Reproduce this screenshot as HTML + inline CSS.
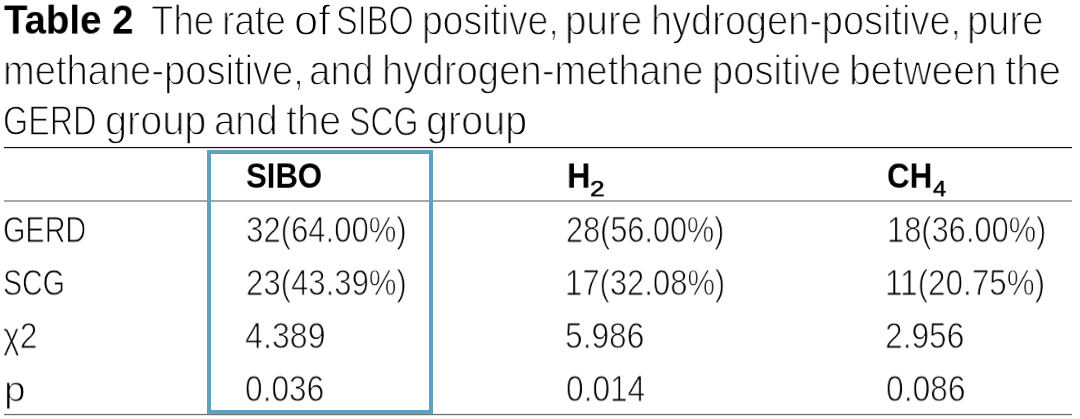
<!DOCTYPE html>
<html><head><meta charset="utf-8"><style>
html,body{margin:0;padding:0;background:#fff;width:1080px;height:419px;overflow:hidden;position:relative}
.t{position:absolute;will-change:transform;font-family:"Liberation Sans",sans-serif;line-height:0;white-space:nowrap;transform-origin:0 0;color:#000}
.b{font-weight:700}
.rule{position:absolute;left:4px;width:1068px}
</style></head><body>
<div class="rule" style="top:146px;height:1px;background:#f2f2f2"></div>
<div class="rule" style="top:147px;height:1px;background:#141414"></div>
<div class="rule" style="top:148px;height:1px;background:#d4d4d4"></div>
<div class="rule" style="top:200px;height:2px;background:#a8a8a8"></div>
<div class="rule" style="top:413px;height:1px;background:#eeeeee"></div>
<div class="rule" style="top:414px;height:1px;background:#717171"></div>
<div class="rule" style="top:415px;height:1px;background:#e4e4e4"></div>
<div class="t b" style="left:3.90px;top:20.36px;font-size:44px;transform:scale(0.8722,0.9040)">Table 2</div>
<div class="t r" style="left:151.07px;top:21.14px;font-size:42px;-webkit-text-stroke:1.30px #fff;transform:scale(0.8739,1.0039)">The</div>
<div class="t r" style="left:222.13px;top:20.63px;font-size:42px;-webkit-text-stroke:1.30px #fff;transform:scale(0.8828,0.9974)">rate</div>
<div class="t r" style="left:293.91px;top:21.06px;font-size:42px;-webkit-text-stroke:1.30px #fff;transform:scale(1.0370,1.0009)">of</div>
<div class="t r" style="left:335.79px;top:21.12px;font-size:42px;-webkit-text-stroke:1.30px #fff;transform:scale(0.7739,1.0058)">SIBO</div>
<div class="t r" style="left:421.83px;top:20.70px;font-size:42px;-webkit-text-stroke:1.30px #fff;transform:scale(0.8877,1.0027)">positive,</div>
<div class="t r" style="left:565.42px;top:21.14px;font-size:42px;-webkit-text-stroke:1.30px #fff;transform:scale(0.9177,1.0039)">pure</div>
<div class="t r" style="left:650.88px;top:20.82px;font-size:42px;-webkit-text-stroke:1.30px #fff;transform:scale(0.9034,0.9955)">hydrogen-positive,</div>
<div class="t r" style="left:967.05px;top:21.14px;font-size:42px;-webkit-text-stroke:1.30px #fff;transform:scale(0.9090,1.0039)">pure</div>
<div class="t r" style="left:3.25px;top:71.15px;font-size:42px;-webkit-text-stroke:1.30px #fff;transform:scale(0.9074,1.0033)">methane-positive,</div>
<div class="t r" style="left:309.08px;top:70.91px;font-size:42px;-webkit-text-stroke:1.30px #fff;transform:scale(0.9184,0.9987)">and</div>
<div class="t r" style="left:381.60px;top:71.15px;font-size:42px;-webkit-text-stroke:1.30px #fff;transform:scale(0.9118,1.0033)">hydrogen-methane</div>
<div class="t r" style="left:711.85px;top:71.15px;font-size:42px;-webkit-text-stroke:1.30px #fff;transform:scale(0.9082,1.0033)">positive</div>
<div class="t r" style="left:849.01px;top:70.68px;font-size:42px;-webkit-text-stroke:1.30px #fff;transform:scale(0.9305,1.0009)">between</div>
<div class="t r" style="left:1004.87px;top:70.57px;font-size:42px;-webkit-text-stroke:1.30px #fff;transform:scale(0.9597,1.0017)">the</div>
<div class="t r" style="left:2.89px;top:121.31px;font-size:42px;-webkit-text-stroke:1.30px #fff;transform:scale(0.7699,0.9975)">GERD</div>
<div class="t r" style="left:104.87px;top:121.28px;font-size:42px;-webkit-text-stroke:1.30px #fff;transform:scale(0.9441,0.9955)">group</div>
<div class="t r" style="left:213.91px;top:121.22px;font-size:42px;-webkit-text-stroke:1.30px #fff;transform:scale(0.9078,0.9991)">and</div>
<div class="t r" style="left:286.29px;top:121.30px;font-size:42px;-webkit-text-stroke:1.30px #fff;transform:scale(0.9454,0.9969)">the</div>
<div class="t r" style="left:349.40px;top:121.57px;font-size:42px;-webkit-text-stroke:1.30px #fff;transform:scale(0.7638,1.0118)">SCG</div>
<div class="t r" style="left:425.71px;top:121.28px;font-size:42px;-webkit-text-stroke:1.30px #fff;transform:scale(0.9418,0.9955)">group</div>
<div class="t b" style="left:245.86px;top:176.40px;font-size:38px;transform:scale(0.8187,0.8990)">SIBO</div>
<div class="t b" style="left:566.73px;top:176.01px;font-size:38px;transform:scale(0.8546,0.8940)">H</div>
<div class="t n" style="left:589.62px;top:189.08px;font-size:24px;-webkit-text-stroke:0.60px #000;transform:scale(1.0969,0.8986)">2</div>
<div class="t b" style="left:886.76px;top:176.01px;font-size:38px;transform:scale(0.8232,0.8940)">CH</div>
<div class="t n" style="left:932.78px;top:189.08px;font-size:24px;-webkit-text-stroke:0.60px #000;transform:scale(0.9812,0.8986)">4</div>
<div class="t r" style="left:2.78px;top:230.05px;font-size:38px;-webkit-text-stroke:1.00px #fff;transform:scale(0.7582,0.9432)">GERD</div>
<div class="t r" style="left:3.26px;top:283.08px;font-size:38px;-webkit-text-stroke:1.00px #fff;transform:scale(0.7515,0.9426)">SCG</div>
<div class="t r" style="left:3.42px;top:335.76px;font-size:38px;-webkit-text-stroke:1.00px #fff;transform:scale(0.8371,0.9427)">χ2</div>
<div class="t r" style="left:3.69px;top:390.07px;font-size:37px;-webkit-text-stroke:1.00px #fff;transform:scale(1.0505,0.9532)">p</div>
<div class="t r" style="left:245.55px;top:230.05px;font-size:38px;-webkit-text-stroke:1.00px #fff;transform:scale(0.8182,0.9432)">32(64.00%)</div>
<div class="t r" style="left:245.97px;top:283.37px;font-size:38px;-webkit-text-stroke:1.00px #fff;transform:scale(0.8188,0.9398)">23(43.39%)</div>
<div class="t r" style="left:245.11px;top:335.58px;font-size:38px;-webkit-text-stroke:1.00px #fff;transform:scale(0.8473,0.9476)">4.389</div>
<div class="t r" style="left:245.36px;top:388.94px;font-size:38px;-webkit-text-stroke:1.00px #fff;transform:scale(0.8322,0.9476)">0.036</div>
<div class="t r" style="left:565.90px;top:229.90px;font-size:38px;-webkit-text-stroke:1.00px #fff;transform:scale(0.8060,0.9454)">28(56.00%)</div>
<div class="t r" style="left:564.87px;top:283.20px;font-size:38px;-webkit-text-stroke:1.00px #fff;transform:scale(0.8154,0.9415)">17(32.08%)</div>
<div class="t r" style="left:565.26px;top:335.75px;font-size:38px;-webkit-text-stroke:1.00px #fff;transform:scale(0.8334,0.9432)">5.986</div>
<div class="t r" style="left:566.17px;top:388.94px;font-size:38px;-webkit-text-stroke:1.00px #fff;transform:scale(0.8327,0.9476)">0.014</div>
<div class="t r" style="left:887.03px;top:229.68px;font-size:38px;-webkit-text-stroke:1.00px #fff;transform:scale(0.8111,0.9418)">18(36.00%)</div>
<div class="t r" style="left:884.94px;top:283.08px;font-size:38px;-webkit-text-stroke:1.00px #fff;transform:scale(0.8268,0.9426)">11(20.75%)</div>
<div class="t r" style="left:885.03px;top:336.18px;font-size:38px;-webkit-text-stroke:1.00px #fff;transform:scale(0.8334,0.9420)">2.956</div>
<div class="t r" style="left:886.16px;top:388.94px;font-size:38px;-webkit-text-stroke:1.00px #fff;transform:scale(0.8358,0.9476)">0.086</div>
<div style="position:absolute;left:207px;top:150px;width:218px;height:255.5px;border:4px solid #5fa0bf"></div>
</body></html>
